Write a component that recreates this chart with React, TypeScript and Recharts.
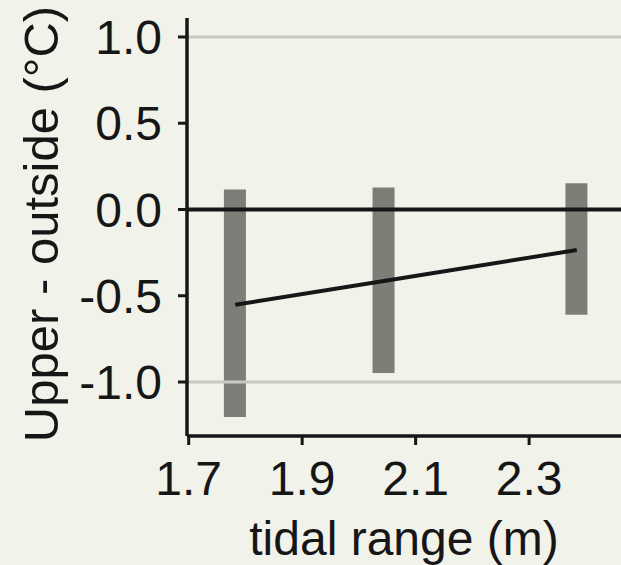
import {
  ComposedChart,
  Bar,
  Line,
  XAxis,
  YAxis,
  ReferenceLine,
  Label
} from "recharts";

const tidalRange = [1.782, 2.044, 2.384];
const lowerDiff = [-1.203, -0.948, -0.61];
const upperDiff = [0.116, 0.128, 0.152];
const fitDiff = [-0.552, -0.415, -0.235];

const xTicks = [1.7, 1.9, 2.1, 2.3];
const yTicks = [-1, -0.5, 0, 0.5, 1];
const gridLevels = [-1, 1];

const data = tidalRange.map((x, i) => ({
  x,
  range: [lowerDiff[i], upperDiff[i]],
  fit: fitDiff[i]
}));

const ink = "#161616";
const font = "'Liberation Sans', Arial, sans-serif";
const tickStyle = { fontSize: 48, fill: ink, fontFamily: font, stroke: "none" };

const YTitle = ({ viewBox }: any) => {
  const cx = viewBox.x + 58;
  const cy = viewBox.y + viewBox.height / 2 - 3;
  return (
    <text
      x={cx}
      y={cy}
      transform={`rotate(-90, ${cx}, ${cy})`}
      textAnchor="middle"
      fontSize={49}
      fontFamily={font}
      fill={ink}
    >
      Upper - outside (°C)
    </text>
  );
};

export default function App() {
  return (
    <div
      style={{
        position: "absolute",
        left: 0,
        top: 0,
        width: 621,
        height: 565,
        background: "#f1f2ea",
        overflow: "hidden"
      }}
    >
      <ComposedChart
        width={621}
        height={565}
        data={data}
        margin={{ top: 18, right: 0, bottom: 0, left: 0 }}
      >
        <XAxis
          type="number"
          dataKey="x"
          domain={[1.697, 2.462]}
          ticks={xTicks}
          allowDataOverflow
          height={129}
          tickSize={9}
          tickMargin={16}
          tick={tickStyle}
          tickFormatter={(v: number) => v.toFixed(1)}
          stroke={ink}
          strokeWidth={3.5}
          axisLine={{ stroke: ink, strokeWidth: 3.5 }}
          tickLine={{ stroke: ink, strokeWidth: 3 }}
        >
          <Label
            value="tidal range (m)"
            position="insideBottom"
            offset={10}
            style={{ fontSize: 48, fill: ink, fontFamily: font, stroke: "none" }}
          />
        </XAxis>
        <YAxis
          type="number"
          domain={[-1.313, 1.11]}
          ticks={yTicks}
          allowDataOverflow
          width={187}
          tickSize={9}
          tickMargin={16}
          tick={tickStyle}
          tickFormatter={(v: number) => v.toFixed(1)}
          stroke={ink}
          strokeWidth={3.5}
          axisLine={{ stroke: ink, strokeWidth: 3.5 }}
          tickLine={{ stroke: ink, strokeWidth: 3 }}
          label={<YTitle />}
        />
        <Bar
          dataKey="range"
          barSize={22}
          fill="#7d7e78"
          isAnimationActive={false}
        />
        {gridLevels.map((g) => (
          <ReferenceLine key={g} y={g} stroke="#c8c9c2" strokeWidth={3} />
        ))}
        <ReferenceLine y={0} stroke={ink} strokeWidth={4} />
        <Line
          type="linear"
          dataKey="fit"
          stroke={ink}
          strokeWidth={4}
          dot={false}
          isAnimationActive={false}
        />
      </ComposedChart>
    </div>
  );
}
